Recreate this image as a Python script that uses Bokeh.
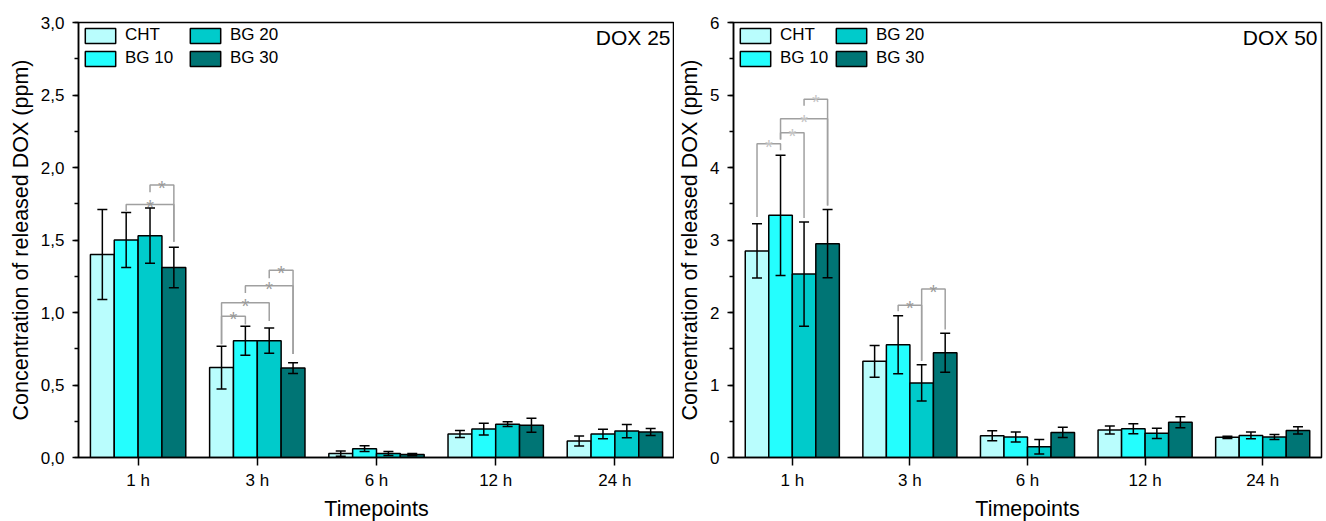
from bokeh.plotting import figure
from bokeh.models import (Range1d, FixedTicker, SingleIntervalTicker, ColumnDataSource,
                          Whisker, TeeHead, Legend, LegendItem, Label, CustomJSTickFormatter)
from bokeh.layouts import row
from bokeh.embed import file_html
from bokeh.resources import INLINE
from bokeh.core.properties import value

# ---------------- data ----------------
timepoints = ["1 h", "3 h", "6 h", "12 h", "24 h"]
series = ["CHT", "BG 10", "BG 20", "BG 30"]
colors = ["#b9fdfd", "#24fefe", "#00cbcb", "#007575"]

# DOX 25
dox25_cht = [1.40, 0.62, 0.027, 0.162, 0.114]
dox25_bg10 = [1.50, 0.805, 0.061, 0.196, 0.162]
dox25_bg20 = [1.53, 0.806, 0.027, 0.230, 0.182]
dox25_bg30 = [1.31, 0.617, 0.020, 0.223, 0.176]
dox25_cht_err = [0.31, 0.148, 0.018, 0.024, 0.034]
dox25_bg10_err = [0.19, 0.10, 0.020, 0.041, 0.032]
dox25_bg20_err = [0.19, 0.087, 0.014, 0.017, 0.046]
dox25_bg30_err = [0.14, 0.037, 0.008, 0.048, 0.024]

# DOX 50
dox50_cht = [2.85, 1.326, 0.300, 0.378, 0.278]
dox50_bg10 = [3.34, 1.554, 0.283, 0.396, 0.305]
dox50_bg20 = [2.53, 1.029, 0.150, 0.333, 0.283]
dox50_bg30 = [2.95, 1.445, 0.346, 0.487, 0.373]
dox50_cht_err = [0.375, 0.22, 0.07, 0.055, 0.015]
dox50_bg10_err = [0.83, 0.40, 0.07, 0.068, 0.047]
dox50_bg20_err = [0.72, 0.25, 0.10, 0.070, 0.035]
dox50_bg30_err = [0.47, 0.27, 0.07, 0.075, 0.050]

# significance brackets (group index, series a, series b, level, leg bottoms)
dox25_sig_group = [0, 0, 1, 1, 1, 1]
dox25_sig_a = [1, 2, 0, 0, 1, 2]
dox25_sig_b = [3, 3, 1, 2, 3, 3]
dox25_sig_level = [1.745, 1.879, 0.975, 1.068, 1.184, 1.291]
dox25_sig_a_bottom = [1.70, 1.829, 0.781, 0.781, 1.134, 1.237]
dox25_sig_b_bottom = [1.488, 1.488, 0.918, 0.941, 0.713, 0.713]
dox25_star_colors = ["#9a9a9a"] * 6

dox50_sig_group = [0, 0, 0, 0, 1, 1]
dox50_sig_a = [0, 1, 1, 2, 1, 2]
dox50_sig_b = [1, 2, 3, 3, 2, 3]
dox50_sig_level = [4.328, 4.478, 4.674, 4.943, 2.10, 2.323]
dox50_sig_a_bottom = [3.317, 4.387, 4.387, 4.852, 2.018, 1.335]
dox50_sig_b_bottom = [4.237, 3.303, 3.476, 3.476, 1.335, 1.767]
dox50_star_colors = ["#c4c4c4", "#c4c4c4", "#c4c4c4", "#c4c4c4", "#9a9a9a", "#9a9a9a"]

FONT = "Liberation Sans"
OFFSETS = [-0.3, -0.1, 0.1, 0.3]
FRAME_H = 435
TOP = 22


def make_plot(means, errs, ymax, interval, comma, tag, sig, star_colors,
              frame_w, border_left, border_right, tag_offset, legend_x2):
    p = figure(frame_width=frame_w, frame_height=FRAME_H,
               x_range=Range1d(-0.5, 4.5), y_range=Range1d(0, ymax),
               output_backend="svg", toolbar_location=None,
               min_border_left=border_left, min_border_right=border_right,
               min_border_top=TOP, min_border_bottom=62,
               background_fill_color="white", border_fill_color="white")
    p.xgrid.visible = False
    p.ygrid.visible = False
    p.outline_line_color = "black"
    p.outline_line_width = 1.5
    p.outline_line_alpha = 1.0

    rends = []
    for k in range(4):
        xs = [i + OFFSETS[k] for i in range(len(timepoints))]
        m = means[k]
        e = errs[k]
        src = ColumnDataSource(dict(x=xs, top=m,
                                    upper=[a + b for a, b in zip(m, e)],
                                    lower=[a - b for a, b in zip(m, e)]))
        r = p.vbar(x="x", top="top", bottom=0, width=0.2, source=src,
                   fill_color=colors[k], line_color="black", line_width=1.5)
        rends.append(r)
        w = Whisker(base="x", upper="upper", lower="lower", source=src,
                    line_color="black", line_width=1.5, level="annotation",
                    upper_head=TeeHead(size=10, line_color="black", line_width=1.5),
                    lower_head=TeeHead(size=10, line_color="black", line_width=1.5))
        p.add_layout(w)

    # significance brackets
    g, a, b, lev, ab, bb = sig
    bxs, bys, sx, sy = [], [], [], []
    for i in range(len(g)):
        xa = g[i] + OFFSETS[a[i]]
        xb = g[i] + OFFSETS[b[i]]
        bxs.append([xa, xa, xb, xb])
        bys.append([ab[i], lev[i], lev[i], bb[i]])
        sx.append((xa + xb) / 2)
        sy.append(lev[i])
    p.multi_line(bxs, bys, line_color="#a0a0a0", line_width=1.5)
    p.text(x=sx, y=sy, text=["*"] * len(sx), text_color=star_colors,
           text_font=value(FONT), text_font_size="20px",
           text_align="center", text_baseline="alphabetic", y_offset=3)

    # axes
    xa_ = p.xaxis[0]
    ya_ = p.yaxis[0]
    xa_.ticker = FixedTicker(ticks=list(range(len(timepoints))))
    xa_.major_label_overrides = {i: t for i, t in enumerate(timepoints)}
    xa_.minor_tick_line_color = None
    xa_.major_tick_in = 0
    xa_.major_tick_out = 8
    xa_.major_label_standoff = 5
    xa_.axis_label = "Timepoints"
    xa_.axis_label_standoff = 4

    ya_.ticker = SingleIntervalTicker(interval=interval, num_minor_ticks=2)
    if comma:
        ya_.formatter = CustomJSTickFormatter(
            code="return tick.toFixed(1).replace('.', ',');")
    ya_.major_tick_in = 0
    ya_.major_tick_out = 6
    ya_.minor_tick_in = 0
    ya_.minor_tick_out = 4
    ya_.minor_tick_line_color = "black"
    ya_.major_label_standoff = 8
    ya_.axis_label = "Concentration of released DOX (ppm)"
    ya_.axis_label_standoff = 5

    for ax in (xa_, ya_):
        ax.axis_line_width = 1.5
        ax.axis_line_color = "black"
        ax.major_tick_line_width = 1.5
        ax.minor_tick_line_width = 1.5
        ax.major_tick_line_color = "black"
        ax.major_label_text_font = FONT
        ax.major_label_text_font_size = "17px"
        ax.major_label_text_color = "black"
        ax.axis_label_text_font = FONT
        ax.axis_label_text_font_size = "21.5px"
        ax.axis_label_text_font_style = "normal"
        ax.axis_label_text_color = "black"

    # tag label
    p.add_layout(Label(x=4.5, y=ymax, x_offset=tag_offset, y_offset=-3, text=tag,
                       text_align="right", text_baseline="top",
                       text_font=FONT, text_font_size="21px", text_color="black"))

    # legends (two columns)
    leg_h = 2 * 20 + 3
    ly = FRAME_H - 3 - leg_h
    common = dict(orientation="vertical", glyph_width=38, glyph_height=19,
                  label_height=19, spacing=3, padding=0, margin=0, label_standoff=6,
                  label_text_font=FONT, label_text_font_size="17px",
                  label_text_color="black",
                  border_line_alpha=0, background_fill_alpha=0)
    leg1 = Legend(items=[LegendItem(label=series[0], renderers=[rends[0]]),
                         LegendItem(label=series[1], renderers=[rends[1]])],
                  location=(3, ly), **common)
    leg2 = Legend(items=[LegendItem(label=series[2], renderers=[rends[2]]),
                         LegendItem(label=series[3], renderers=[rends[3]])],
                  location=(legend_x2, ly), **common)
    p.add_layout(leg1)
    p.add_layout(leg2)
    return p


p1 = make_plot([dox25_cht, dox25_bg10, dox25_bg20, dox25_bg30],
               [dox25_cht_err, dox25_bg10_err, dox25_bg20_err, dox25_bg30_err],
               3.0, 0.5, True, "DOX 25",
               (dox25_sig_group, dox25_sig_a, dox25_sig_b, dox25_sig_level,
                dox25_sig_a_bottom, dox25_sig_b_bottom),
               dox25_star_colors,
               frame_w=596, border_left=78, border_right=0, tag_offset=-4, legend_x2=108)

p2 = make_plot([dox50_cht, dox50_bg10, dox50_bg20, dox50_bg30],
               [dox50_cht_err, dox50_bg10_err, dox50_bg20_err, dox50_bg30_err],
               6.0, 1, False, "DOX 50",
               (dox50_sig_group, dox50_sig_a, dox50_sig_b, dox50_sig_level,
                dox50_sig_a_bottom, dox50_sig_b_bottom),
               dox50_star_colors,
               frame_w=588, border_left=59, border_right=3, tag_offset=-4, legend_x2=99)

layout = row(p1, p2, spacing=0)
open("out.html", "w").write(file_html(layout, INLINE))
